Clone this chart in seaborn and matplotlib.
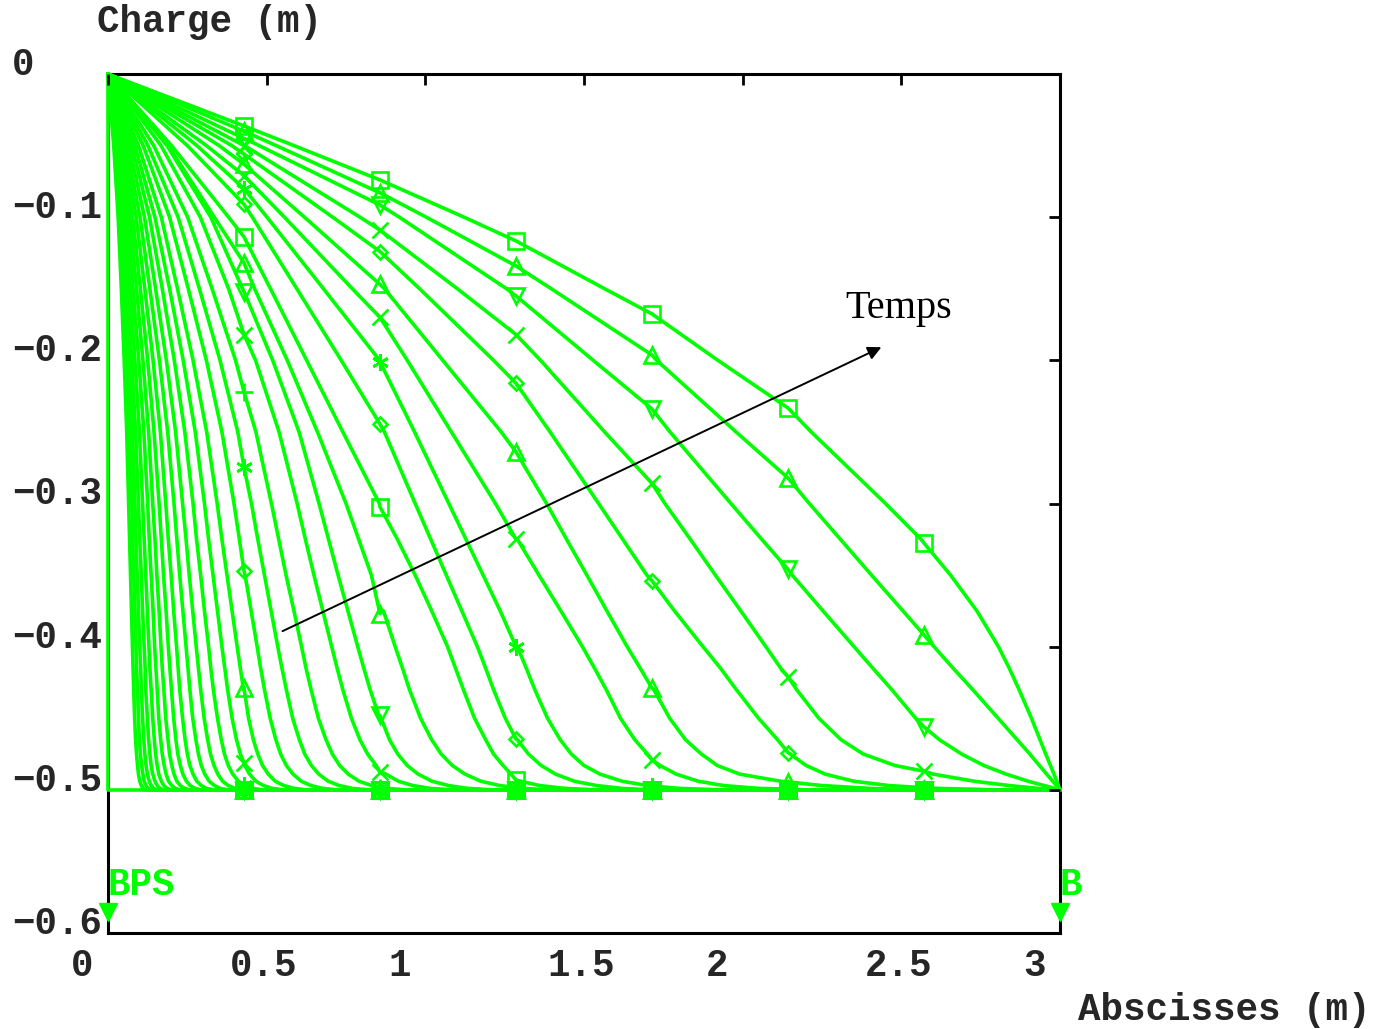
import matplotlib
matplotlib.use("Agg")
import matplotlib.pyplot as plt
import matplotlib.transforms as mtransforms
import numpy as np
import seaborn as sns

GREEN = "#00ff00"

# charge levels (m) at which the abscissa of every profile was read
levels = [0.0, -0.05, -0.1, -0.15, -0.2, -0.25, -0.3, -0.325, -0.35, -0.375, -0.4,
          -0.415, -0.43, -0.45, -0.465, -0.475, -0.483, -0.489, -0.494, -0.497, -0.499, -0.5]

# abscissa (m) of each profile at those levels, latest time first, initial state last
x_at_levels = [
    [0, 0.586, 1.122, 1.565, 1.922, 2.216, 2.45, 2.562, 2.655, 2.738, 2.806, 2.84, 2.871, 2.91, 2.937, 2.955, 2.97, 2.981, 2.99, 2.995, 2.998, 3.0],
    [0, 0.53, 1.003, 1.397, 1.729, 1.979, 2.21, 2.308, 2.406, 2.505, 2.603, 2.663, 2.725, 2.805, 2.865, 2.905, 2.935, 2.958, 2.977, 2.989, 2.996, 3.0],
    [0, 0.476, 0.918, 1.256, 1.529, 1.771, 1.963, 2.06, 2.156, 2.253, 2.351, 2.41, 2.47, 2.545, 2.62, 2.69, 2.76, 2.83, 2.9, 2.95, 2.985, 3.0],
    [0, 0.43, 0.794, 1.101, 1.363, 1.565, 1.755, 1.835, 1.914, 1.994, 2.073, 2.12, 2.17, 2.24, 2.31, 2.38, 2.48, 2.6, 2.73, 2.84, 2.93, 3.0],
    [0, 0.39, 0.708, 0.982, 1.215, 1.393, 1.546, 1.622, 1.698, 1.785, 1.875, 1.93, 1.98, 2.05, 2.11, 2.15, 2.2, 2.26, 2.35, 2.46, 2.62, 2.8],
    [0, 0.35, 0.619, 0.871, 1.055, 1.239, 1.382, 1.445, 1.509, 1.572, 1.636, 1.677, 1.72, 1.77, 1.82, 1.87, 1.92, 1.99, 2.12, 2.25, 2.4, 2.55],
    [0, 0.31, 0.556, 0.77, 0.943, 1.082, 1.221, 1.29, 1.358, 1.427, 1.495, 1.533, 1.57, 1.615, 1.66, 1.70, 1.74, 1.79, 1.86, 1.94, 2.05, 2.2],
    [0, 0.28, 0.501, 0.679, 0.856, 0.966, 1.074, 1.128, 1.182, 1.236, 1.29, 1.318, 1.345, 1.385, 1.425, 1.46, 1.50, 1.55, 1.62, 1.70, 1.80, 1.93],
    [0, 0.25, 0.455, 0.595, 0.735, 0.871, 0.968, 1.017, 1.066, 1.115, 1.164, 1.19, 1.215, 1.252, 1.29, 1.325, 1.365, 1.41, 1.47, 1.54, 1.62, 1.73],
    [0, 0.2, 0.38, 0.512, 0.626, 0.74, 0.855, 0.912, 0.968, 1.02, 1.07, 1.095, 1.12, 1.155, 1.19, 1.215, 1.245, 1.27, 1.30, 1.36, 1.44, 1.54],
    [0, 0.19, 0.335, 0.462, 0.565, 0.66, 0.75, 0.79, 0.83, 0.868, 0.905, 0.928, 0.95, 0.985, 1.02, 1.05, 1.085, 1.125, 1.175, 1.235, 1.3, 1.4],
    [0, 0.186, 0.324, 0.424, 0.519, 0.602, 0.665, 0.695, 0.725, 0.756, 0.787, 0.806, 0.826, 0.856, 0.887, 0.913, 0.943, 0.977, 1.021, 1.073, 1.133, 1.211],
    [0, 0.167, 0.291, 0.38, 0.465, 0.539, 0.596, 0.622, 0.649, 0.677, 0.705, 0.722, 0.74, 0.767, 0.794, 0.818, 0.845, 0.876, 0.915, 0.961, 1.015, 1.085],
    [0, 0.144, 0.251, 0.328, 0.402, 0.466, 0.515, 0.538, 0.561, 0.586, 0.61, 0.624, 0.64, 0.663, 0.687, 0.707, 0.73, 0.757, 0.791, 0.831, 0.878, 0.938],
    [0, 0.126, 0.221, 0.288, 0.353, 0.409, 0.452, 0.472, 0.493, 0.514, 0.535, 0.548, 0.562, 0.582, 0.603, 0.62, 0.641, 0.664, 0.694, 0.729, 0.77, 0.823],
    [0, 0.111, 0.194, 0.253, 0.31, 0.359, 0.397, 0.414, 0.432, 0.451, 0.47, 0.481, 0.493, 0.511, 0.529, 0.544, 0.562, 0.583, 0.609, 0.64, 0.676, 0.722],
    [0, 0.096, 0.168, 0.219, 0.268, 0.311, 0.344, 0.359, 0.375, 0.391, 0.407, 0.417, 0.427, 0.443, 0.458, 0.472, 0.487, 0.505, 0.527, 0.554, 0.586, 0.626],
    [0, 0.085, 0.148, 0.194, 0.237, 0.275, 0.304, 0.317, 0.331, 0.345, 0.359, 0.368, 0.377, 0.391, 0.405, 0.417, 0.431, 0.446, 0.466, 0.49, 0.517, 0.553],
    [0, 0.075, 0.131, 0.171, 0.209, 0.242, 0.268, 0.279, 0.292, 0.304, 0.317, 0.324, 0.332, 0.345, 0.357, 0.367, 0.379, 0.393, 0.411, 0.432, 0.456, 0.487],
    [0, 0.066, 0.115, 0.15, 0.184, 0.213, 0.235, 0.246, 0.256, 0.267, 0.278, 0.285, 0.292, 0.303, 0.314, 0.323, 0.334, 0.346, 0.361, 0.379, 0.401, 0.428],
    [0, 0.058, 0.101, 0.132, 0.162, 0.188, 0.208, 0.217, 0.226, 0.236, 0.246, 0.252, 0.258, 0.267, 0.277, 0.285, 0.294, 0.305, 0.319, 0.335, 0.354, 0.378],
    [0, 0.051, 0.089, 0.116, 0.142, 0.165, 0.182, 0.19, 0.199, 0.207, 0.216, 0.221, 0.226, 0.235, 0.243, 0.25, 0.258, 0.268, 0.28, 0.294, 0.31, 0.332],
    [0, 0.045, 0.078, 0.102, 0.125, 0.145, 0.161, 0.168, 0.175, 0.183, 0.19, 0.195, 0.2, 0.207, 0.214, 0.22, 0.228, 0.236, 0.247, 0.259, 0.274, 0.293],
    [0, 0.04, 0.069, 0.09, 0.11, 0.128, 0.141, 0.148, 0.154, 0.161, 0.167, 0.171, 0.176, 0.182, 0.189, 0.194, 0.201, 0.208, 0.217, 0.228, 0.241, 0.258],
    [0, 0.035, 0.061, 0.079, 0.097, 0.113, 0.125, 0.13, 0.136, 0.142, 0.147, 0.151, 0.155, 0.16, 0.166, 0.171, 0.177, 0.183, 0.191, 0.201, 0.212, 0.227],
    [0, 0.031, 0.053, 0.07, 0.085, 0.099, 0.109, 0.114, 0.119, 0.124, 0.129, 0.132, 0.136, 0.141, 0.146, 0.15, 0.155, 0.16, 0.168, 0.176, 0.186, 0.199],
    [0, 0.027, 0.047, 0.061, 0.075, 0.087, 0.096, 0.1, 0.105, 0.109, 0.114, 0.117, 0.119, 0.124, 0.128, 0.132, 0.136, 0.141, 0.148, 0.155, 0.164, 0.175],
    [0, 0.024, 0.041, 0.054, 0.066, 0.077, 0.085, 0.088, 0.092, 0.096, 0.1, 0.103, 0.105, 0.109, 0.113, 0.116, 0.12, 0.124, 0.13, 0.136, 0.144, 0.154],
    [0, 0.021, 0.036, 0.048, 0.058, 0.068, 0.075, 0.078, 0.081, 0.085, 0.088, 0.09, 0.093, 0.096, 0.099, 0.102, 0.106, 0.11, 0.114, 0.12, 0.127, 0.136],
    [0, 0.018, 0.032, 0.042, 0.051, 0.059, 0.065, 0.068, 0.071, 0.074, 0.077, 0.079, 0.081, 0.084, 0.087, 0.09, 0.093, 0.096, 0.1, 0.105, 0.111, 0.119],
    [0, 0, 0, 0, 0, 0, 0, 0, 0, 0, 0, 0, 0, 0, 0, 0, 0, 0, 0, 0, 0, 0],
]

# abscissas of the marker nodes and the charge read there on each profile
marker_x = [0.4286, 0.8571, 1.2857, 1.7143, 2.1429, 2.5714]
marker_y = [
    [-0.0363, -0.074, -0.1166, -0.1676, -0.2333, -0.3276],
    [-0.040, -0.083, -0.1341, -0.1963, -0.2822, -0.3918],
    [-0.045, -0.0915, -0.155, -0.234, -0.346, -0.456],
    [-0.050, -0.109, -0.182, -0.286, -0.421, -0.487],
    [-0.056, -0.124, -0.216, -0.354, -0.474, -0.4985],
    [-0.063, -0.147, -0.264, -0.429, -0.4945, -0.5],
    [-0.071, -0.170, -0.325, -0.479, -0.4995, -0.5],
    [-0.080, -0.201, -0.400, -0.4973, -0.5, -0.5],
    [-0.091, -0.2445, -0.4645, -0.5, -0.5, -0.5],
    [-0.1138, -0.3024, -0.4931, -0.5, -0.5, -0.5],
    [-0.132, -0.377, -0.4985, -0.5, -0.5, -0.5],
    [-0.152, -0.448, -0.5, -0.5, -0.5, -0.5],
    [-0.182, -0.4875, -0.5, -0.5, -0.5, -0.5],
    [-0.222, -0.4987, -0.5, -0.5, -0.5, -0.5],
    [-0.2745, -0.5, -0.5, -0.5, -0.5, -0.5],
    [-0.347, -0.5, -0.5, -0.5, -0.5, -0.5],
    [-0.429, -0.5, -0.5, -0.5, -0.5, -0.5],
    [-0.481, -0.5, -0.5, -0.5, -0.5, -0.5],
    [-0.4965, -0.5, -0.5, -0.5, -0.5, -0.5],
    [-0.5, -0.5, -0.5, -0.5, -0.5, -0.5],
    [-0.5, -0.5, -0.5, -0.5, -0.5, -0.5],
    [-0.5, -0.5, -0.5, -0.5, -0.5, -0.5],
    [-0.5, -0.5, -0.5, -0.5, -0.5, -0.5],
    [-0.5, -0.5, -0.5, -0.5, -0.5, -0.5],
    [-0.5, -0.5, -0.5, -0.5, -0.5, -0.5],
    [-0.5, -0.5, -0.5, -0.5, -0.5, -0.5],
    [-0.5, -0.5, -0.5, -0.5, -0.5, -0.5],
    [-0.5, -0.5, -0.5, -0.5, -0.5, -0.5],
    [-0.5, -0.5, -0.5, -0.5, -0.5, -0.5],
    [-0.5, -0.5, -0.5, -0.5, -0.5, -0.5],
    [-0.5, -0.5, -0.5, -0.5, -0.5, -0.5],
]
markers = [
    "square", "up", "down", "cross", "diamond", "up", "cross", "star", "diamond",
    "square", "up", "down", "cross", "plus", "star", "diamond", "up", "cross",
    "star", "diamond", "square", "up", "down", "cross", "plus", "star", "diamond",
    "up", "cross", "square", "up",
]
x_end, y_floor = 3.0, -0.5

x_ticks = [0, 0.5, 1, 1.5, 2, 2.5, 3]
x_tick_labels = ["0", "0.5", "1", "1.5", "2", "2.5", "3"]
y_ticks = [0, -0.1, -0.2, -0.3, -0.4, -0.5, -0.6]
y_tick_labels = ["0", "\u22120.1", "\u22120.2", "\u22120.3", "\u22120.4", "\u22120.5", "\u22120.6"]

point_names = ["BPS", "B"]
point_x = [0.0, 3.0]

arrow_from = (0.542, -0.39)
arrow_to = (2.445, -0.19)

MARKER_STYLE = {
    "square": dict(marker="s", markersize=11),
    "up": dict(marker="^", markersize=11),
    "down": dict(marker="v", markersize=11),
    "cross": dict(marker="x", markersize=11.5),
    "plus": dict(marker="+", markersize=12.5),
    "star": dict(marker=(6, 2, 0), markersize=12),
    "diamond": dict(marker="D", markersize=7.5),
}

sns.set_style("white")
plt.rcParams["font.family"] = ["Liberation Mono", "DejaVu Sans Mono"]
mono = dict(family=["Liberation Mono", "DejaVu Sans Mono"], weight="bold", fontsize=27)

fig = plt.figure(figsize=(13.85, 10.29), dpi=100)
ax = fig.add_axes([108 / 1385, 96 / 1029, 952 / 1385, 859 / 1029])

n_lev = len(levels)
for xs, my, m in zip(x_at_levels, marker_y, markers):
    px = np.array(xs + marker_x + [x_end], dtype=float)
    py = np.array(levels + my + [y_floor], dtype=float)
    order = np.lexsort((-py, px))
    idx = np.flatnonzero((order >= n_lev) & (order < n_lev + len(marker_x)))
    sns.lineplot(
        x=px[order], y=py[order], sort=False, estimator=None, ax=ax,
        color=GREEN, linewidth=2.6, markevery=list(idx),
        markerfacecolor="none", markeredgecolor=GREEN, markeredgewidth=1.9,
        clip_on=False, zorder=3, **MARKER_STYLE[m],
    )

ax.set_xlim(0, 3)
ax.set_ylim(-0.6, 0)
ax.set_xticks(x_ticks)
ax.set_yticks(y_ticks)
ax.tick_params(direction="in", length=8, width=2, color="black",
               top=True, right=True, labelbottom=False, labelleft=False)
ax.xaxis.set_zorder(4)
ax.yaxis.set_zorder(4)
for sp in ax.spines.values():
    sp.set_color("black")
    sp.set_linewidth(2.2)
    sp.set_zorder(2)

# tick labels placed the way the original plotter does
y_trans = mtransforms.offset_copy(
    mtransforms.blended_transform_factory(fig.transFigure, ax.transData),
    fig=fig, x=0, y=9, units="dots")
for v, lab in zip(y_ticks, y_tick_labels):
    ax.text(12 / 1385, v, lab, transform=y_trans, ha="left", va="center", **mono)
x_trans = mtransforms.offset_copy(
    mtransforms.blended_transform_factory(ax.transData, ax.transAxes),
    fig=fig, x=-37, y=-33, units="dots")
for v, lab in zip(x_ticks, x_tick_labels):
    ax.text(v, 0, lab, transform=x_trans, ha="left", va="center", **mono)

fig.text(97 / 1385, 1 - 22 / 1029, "Charge (m)", ha="left", va="center", **mono)
fig.text(1078 / 1385, 1 - 1010 / 1029, "Abscisses (m)", ha="left", va="center", **mono)

# boundary points
for name, xp in zip(point_names, point_x):
    ax.plot([xp], [-0.5853], marker="v", markersize=13, color=GREEN,
            linestyle="none", clip_on=False, zorder=4)
    ax.text(xp, -0.5665, name, color=GREEN, ha="left", va="center", **mono)

ax.annotate("", xy=arrow_to, xytext=arrow_from,
            arrowprops=dict(arrowstyle="-|>", color="black", lw=1.4, mutation_scale=20),
            zorder=6)
ax.text(2.3225, -0.1704, "Temps", family=["Liberation Serif", "DejaVu Serif"],
        fontsize=29, ha="left", va="baseline", color="black", zorder=6)

fig.savefig("out.png", dpi=100)
